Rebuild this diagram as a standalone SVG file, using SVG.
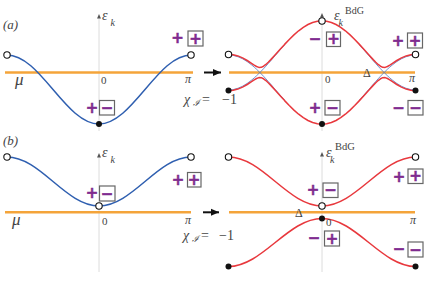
<svg xmlns="http://www.w3.org/2000/svg" width="436" height="281" viewBox="0 0 436 281">
<style>
.ax{stroke:#dcdcdc;stroke-width:1;fill:none}
.mu{stroke:#f4a43a;stroke-width:2.6;fill:none}
.blue{stroke:#2f5fb0;stroke-width:1.5;fill:none}
.bthin{stroke:#4a78c4;stroke-width:0.8;fill:none}
.red{stroke:#e8383d;stroke-width:1.5;fill:none;stroke-linejoin:round}
.oc{fill:#fff;stroke:#111;stroke-width:1.1}
.fc{fill:#111}
.lbl{font-family:"Liberation Serif",serif;fill:#444}
.it{font-style:italic}
.sg{font-family:"DejaVu Sans",sans-serif;font-weight:bold;font-size:15px;fill:#7f2b8f;stroke:#7f2b8f;stroke-width:0.5;text-anchor:middle;dominant-baseline:central}
.bx{fill:#fff;stroke:#666;stroke-width:1.2}
.tip{fill:#555}
</style>
<defs>
<marker id="arr" markerUnits="userSpaceOnUse" markerWidth="9" markerHeight="8" refX="8" refY="4" orient="auto">
<path d="M0,0.5 L8,4 L0,7.5 z" fill="#111"/>
</marker>
</defs>

<g id="panel-a-left">
<line class="ax" x1="99" y1="17" x2="99" y2="131"/>
<path class="tip" d="M99,14 L101,18.5 L97,18.5 z"/>
<line class="mu" x1="5" y1="72.5" x2="193" y2="72.5"/>
<path class="blue" d="M7,55 C40.43,55 65.57,124 99,124 C132.43,124 157.57,55 191,55"/>
<circle class="oc" cx="7" cy="55" r="3.2"/>
<circle class="oc" cx="191" cy="55" r="3.2"/>
<circle class="fc" cx="99" cy="124" r="3"/>
<text class="lbl it" x="3" y="29" font-size="13">(a)</text>
<text class="lbl it" x="102" y="20" font-size="14">ε</text>
<text class="lbl it" x="110.5" y="26" font-size="10">k</text>
<text class="lbl" x="101" y="84" font-size="11">0</text>
<text class="lbl it" x="185" y="83" font-size="12">π</text>
<text class="lbl it" x="15" y="85" font-size="17" fill="#222">μ</text>
<text class="sg" x="92" y="108">+</text>
<rect class="bx" x="99.5" y="100.5" width="15" height="14.5"/>
<text class="sg" x="107" y="108">−</text>
<text class="sg" x="177.5" y="38">+</text>
<rect class="bx" x="188" y="31" width="15" height="15"/>
<text class="sg" x="195.5" y="38.5">+</text>
</g>

<g id="arrow-a">
<line x1="204" y1="72.5" x2="221" y2="72.5" stroke="#111" stroke-width="2" marker-end="url(#arr)"/>
<text class="lbl" y="104" font-size="14"><tspan class="it" x="184">χ</tspan><tspan class="it" x="192.5" dy="2" font-size="9">ℐ</tspan><tspan x="202" dy="-2">=</tspan><tspan x="222">−1</tspan></text>
</g>

<g id="panel-a-right">
<line class="ax" x1="322" y1="16" x2="322" y2="131"/>
<path class="tip" d="M322,13 L324,17.5 L320,17.5 z"/>
<line class="mu" x1="229" y1="72.5" x2="415" y2="72.5"/>
<polyline class="bthin" points="228.5,55.0 233.18,55.43 237.85,56.69 242.53,58.76 247.2,61.59 251.88,65.11 254.21,67.09 256.55,69.22 258.89,71.47 261.23,73.84 263.56,76.30 265.9,78.84 268.24,81.45 270.58,84.10 275.25,89.5 279.93,94.90 284.6,100.16"/>
<polyline class="bthin" points="228.5,90.0 233.18,89.57 237.85,88.31 242.53,86.24 247.2,83.41 251.88,79.89 254.21,77.91 256.55,75.78 258.89,73.53 261.23,71.16 263.56,68.70 265.9,66.16 268.24,63.55 270.58,60.90 275.25,55.5 279.93,50.10 284.6,44.84"/>
<polyline class="bthin" points="359.4,100.16 364.08,94.90 368.75,89.5 373.43,84.10 375.76,81.45 378.1,78.84 380.44,76.30 382.78,73.84 385.11,71.47 387.45,69.22 389.79,67.09 392.13,65.11 396.8,61.59 401.48,58.76 406.15,56.69 410.83,55.43 415.5,55.0"/>
<polyline class="bthin" points="359.4,44.84 364.08,50.10 368.75,55.5 373.43,60.90 375.76,63.55 378.1,66.16 380.44,68.70 382.78,71.16 385.11,73.53 387.45,75.78 389.79,77.91 392.13,79.89 396.8,83.41 401.48,86.24 406.15,88.31 410.83,89.57 415.5,90.0"/>
<polyline class="red" points="228.5,54.30 233.18,54.71 237.85,55.92 242.53,57.88 247.2,60.50 251.88,63.57 254.21,65.14 256.55,66.52 258.89,67.40 261.23,67.32 263.56,66.22 265.9,64.43 268.24,62.25 270.58,59.87 275.25,54.78 279.93,49.55 284.6,44.39 289.28,39.46 293.95,34.89 298.63,30.80 303.3,27.31 307.98,24.50 312.65,22.44 317.33,21.18 322,20.76 326.68,21.18 331.35,22.44 336.03,24.50 340.7,27.31 345.38,30.80 350.05,34.89 354.73,39.46 359.4,44.39 364.08,49.55 368.75,54.78 373.43,59.87 375.76,62.25 378.1,64.43 380.44,66.22 382.78,67.32 385.11,67.40 387.45,66.52 389.79,65.14 392.13,63.57 396.8,60.50 401.48,57.88 406.15,55.92 410.83,54.71 415.5,54.30"/>
<polyline class="red" points="228.5,90.70 233.18,90.29 237.85,89.08 242.53,87.12 247.2,84.50 251.88,81.43 254.21,79.86 256.55,78.48 258.89,77.60 261.23,77.68 263.56,78.78 265.9,80.57 268.24,82.75 270.58,85.13 275.25,90.22 279.93,95.45 284.6,100.61 289.28,105.54 293.95,110.11 298.63,114.20 303.3,117.69 307.98,120.50 312.65,122.56 317.33,123.82 322,124.24 326.68,123.82 331.35,122.56 336.03,120.50 340.7,117.69 345.38,114.20 350.05,110.11 354.73,105.54 359.4,100.61 364.08,95.45 368.75,90.22 373.43,85.13 375.76,82.75 378.1,80.57 380.44,78.78 382.78,77.68 385.11,77.60 387.45,78.48 389.79,79.86 392.13,81.43 396.8,84.50 401.48,87.12 406.15,89.08 410.83,90.29 415.5,90.70"/>
<circle class="oc" cx="228.5" cy="54.5" r="3.2"/>
<circle class="fc" cx="228.5" cy="90.5" r="3"/>
<circle class="oc" cx="415.5" cy="54.5" r="3.2"/>
<circle class="fc" cx="415.5" cy="90.5" r="3"/>
<circle class="oc" cx="322" cy="21" r="3.2"/>
<circle class="fc" cx="322" cy="124" r="3"/>
<text class="lbl it" x="334" y="20" font-size="14">ε</text>
<text class="lbl it" x="338.5" y="25.5" font-size="10">k</text>
<text class="lbl" x="345" y="14" font-size="10">BdG</text>
<text class="lbl" x="325" y="83" font-size="11">0</text>
<text class="lbl it" x="409" y="82" font-size="12">π</text>
<text class="lbl" x="363" y="77" font-size="12" fill="#111">Δ</text>
<text class="sg" x="315" y="39">−</text>
<rect class="bx" x="326.5" y="32" width="14" height="14.5"/>
<text class="sg" x="333.5" y="39">+</text>
<text class="sg" x="398" y="41">+</text>
<rect class="bx" x="407.5" y="33" width="15" height="15"/>
<text class="sg" x="415" y="40.5">+</text>
<text class="sg" x="315" y="108">+</text>
<rect class="bx" x="325" y="100.5" width="15" height="14.5"/>
<text class="sg" x="332.5" y="108">−</text>
<text class="sg" x="398.5" y="108">−</text>
<rect class="bx" x="408" y="100.5" width="15" height="14.5"/>
<text class="sg" x="415.5" y="108">−</text>
</g>

<g id="panel-b-left">
<line class="ax" x1="99" y1="156" x2="99" y2="272"/>
<path class="tip" d="M99,153 L101,157.5 L97,157.5 z"/>
<line class="mu" x1="5" y1="212.3" x2="191" y2="212.3"/>
<path class="blue" d="M7,157 C40.43,157 65.57,206 99,206 C132.43,206 157.57,157 191,157"/>
<circle class="oc" cx="7" cy="157" r="3.2"/>
<circle class="oc" cx="191" cy="157" r="3.2"/>
<circle class="oc" cx="99" cy="206" r="3.2"/>
<text class="lbl it" x="3" y="145" font-size="13">(b)</text>
<text class="lbl it" x="102" y="157" font-size="14">ε</text>
<text class="lbl it" x="110.5" y="163" font-size="10">k</text>
<text class="lbl" x="102" y="225" font-size="11">0</text>
<text class="lbl it" x="185" y="224" font-size="12">π</text>
<text class="lbl it" x="12" y="225" font-size="17" fill="#222">μ</text>
<text class="sg" x="92" y="193">+</text>
<rect class="bx" x="99.5" y="186" width="15.5" height="15"/>
<text class="sg" x="107" y="193.5">−</text>
<text class="sg" x="178" y="180">+</text>
<rect class="bx" x="187.5" y="172.5" width="13.5" height="14.5"/>
<text class="sg" x="194" y="180">+</text>
</g>

<g id="arrow-b">
<line x1="203" y1="212.3" x2="219" y2="212.3" stroke="#111" stroke-width="2" marker-end="url(#arr)"/>
<text class="lbl" y="240" font-size="14"><tspan class="it" x="183">χ</tspan><tspan class="it" x="191.5" dy="2" font-size="9">ℐ</tspan><tspan x="201" dy="-2">=</tspan><tspan x="219">−1</tspan></text>
</g>

<g id="panel-b-right">
<line class="ax" x1="322" y1="155" x2="322" y2="272"/>
<path class="tip" d="M322,152 L324,156.5 L320,156.5 z"/>
<line class="mu" x1="229" y1="212.3" x2="415" y2="212.3"/>
<path class="red" d="M228.5,157 C262.48,157 288.02,206 322,206 C355.98,206 381.52,157 415.5,157"/>
<path class="red" d="M228.5,266.5 C262.48,266.5 288.02,218.5 322,218.5 C355.98,218.5 381.52,266.5 415.5,266.5"/>
<circle class="oc" cx="228.5" cy="157" r="3.2"/>
<circle class="oc" cx="415.5" cy="157" r="3.2"/>
<circle class="oc" cx="322" cy="206" r="3.2"/>
<circle class="fc" cx="322" cy="218.5" r="3"/>
<circle class="fc" cx="228.5" cy="266.5" r="3"/>
<circle class="fc" cx="415.5" cy="266.5" r="3"/>
<text class="lbl it" x="326" y="157" font-size="14">ε</text>
<text class="lbl it" x="330" y="163" font-size="10">k</text>
<text class="lbl" x="335" y="150" font-size="10.5">BdG</text>
<text class="lbl" x="326" y="226" font-size="11">0</text>
<text class="lbl it" x="410" y="224" font-size="12">π</text>
<text class="lbl" x="295" y="217" font-size="12" fill="#111">Δ</text>
<text class="sg" x="313" y="190">+</text>
<rect class="bx" x="323" y="183" width="15" height="14.5"/>
<text class="sg" x="330.5" y="190">−</text>
<text class="sg" x="399" y="177">+</text>
<rect class="bx" x="408" y="169" width="15" height="14.5"/>
<text class="sg" x="415.5" y="176">+</text>
<text class="sg" x="314" y="238">−</text>
<rect class="bx" x="324.5" y="231" width="15" height="15"/>
<text class="sg" x="332" y="238.5">+</text>
<text class="sg" x="399" y="249">−</text>
<rect class="bx" x="408" y="242" width="15" height="15"/>
<text class="sg" x="415.5" y="249.5">−</text>
</g>
</svg>
